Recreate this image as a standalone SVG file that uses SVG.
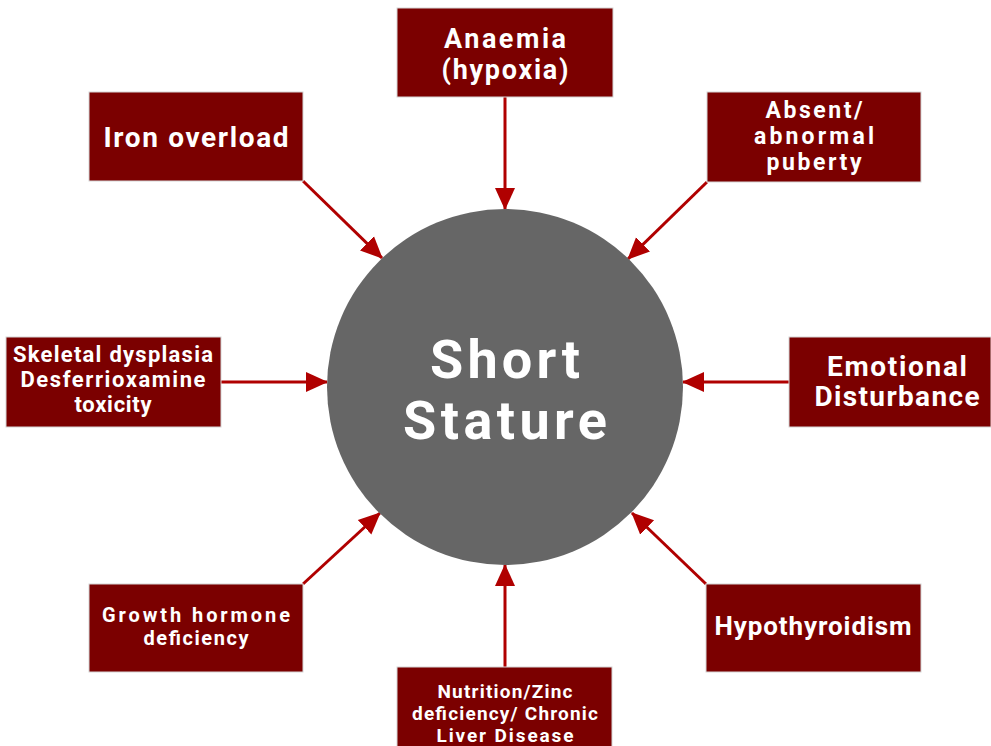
<svg xmlns="http://www.w3.org/2000/svg" width="991" height="746" viewBox="0 0 991 746">
<defs>
<style>
.box{fill:#7b0000;stroke:#d6d6d6;stroke-width:1}
.t{fill:#ffffff;font-family:Roboto,"Liberation Sans",sans-serif;font-weight:700;text-anchor:middle}
.c{stroke:#b00000;stroke-width:3;fill:none;marker-end:url(#ah)}
</style>
<marker id="ah" markerUnits="userSpaceOnUse" markerWidth="22" markerHeight="22" viewBox="0 0 22 22" refX="21" refY="11" orient="auto">
<path d="M0,1 L22,11 L0,21 Z" fill="#b00000"/>
</marker>
</defs>
<rect width="991" height="746" fill="#ffffff"/>
<g id="connectors">
<line class="c" x1="505" y1="97" x2="505" y2="209"/>
<line class="c" x1="303" y1="181" x2="382" y2="258"/>
<line class="c" x1="707" y1="182" x2="628" y2="259"/>
<line class="c" x1="221" y1="382" x2="327" y2="382"/>
<line class="c" x1="789" y1="382" x2="683" y2="382"/>
<line class="c" x1="303" y1="584" x2="380" y2="513"/>
<line class="c" x1="706" y1="584" x2="632" y2="513"/>
<line class="c" x1="505" y1="667" x2="505" y2="565"/>
</g>
<g id="center">
<circle cx="505" cy="387" r="178" fill="#666666"/>
<text class="t" x="505" y="378" font-size="54" textLength="150" lengthAdjust="spacing">Short</text>
<text class="t" x="505" y="439" font-size="54" textLength="204" lengthAdjust="spacing">Stature</text>
</g>
<g id="anaemia">
<rect class="box" x="397" y="8" width="216" height="89"/>
<text class="t" x="505" y="48" font-size="27" textLength="122" lengthAdjust="spacing">Anaemia</text>
<text class="t" x="505" y="79" font-size="27" textLength="127" lengthAdjust="spacing">(hypoxia)</text>
</g>
<g id="iron">
<rect class="box" x="89" y="92" width="214" height="89"/>
<text class="t" x="196" y="147" font-size="28" textLength="185" lengthAdjust="spacing">Iron overload</text>
</g>
<g id="puberty">
<rect class="box" x="707" y="92" width="214" height="90"/>
<text class="t" x="814" y="118" font-size="23" textLength="97" lengthAdjust="spacing">Absent/</text>
<text class="t" x="814" y="144" font-size="23" textLength="120" lengthAdjust="spacing">abnormal</text>
<text class="t" x="814" y="170" font-size="23" textLength="95" lengthAdjust="spacing">puberty</text>
</g>
<g id="skeletal">
<rect class="box" x="6" y="337" width="215" height="90"/>
<text class="t" x="113" y="362" font-size="22" textLength="200" lengthAdjust="spacing">Skeletal dysplasia</text>
<text class="t" x="113" y="387" font-size="22" textLength="185" lengthAdjust="spacing">Desferrioxamine</text>
<text class="t" x="113" y="412" font-size="22" textLength="77" lengthAdjust="spacing">toxicity</text>
</g>
<g id="emotional">
<rect class="box" x="789" y="337" width="202" height="90"/>
<text class="t" x="897" y="376" font-size="28" textLength="140" lengthAdjust="spacing">Emotional</text>
<text class="t" x="897" y="406" font-size="28" textLength="165" lengthAdjust="spacing">Disturbance</text>
</g>
<g id="growth">
<rect class="box" x="89" y="584" width="214" height="88"/>
<text class="t" x="196" y="622" font-size="20" textLength="188" lengthAdjust="spacing">Growth hormone</text>
<text class="t" x="196" y="645" font-size="20" textLength="105" lengthAdjust="spacing">deficiency</text>
</g>
<g id="hypothyroidism">
<rect class="box" x="706" y="584" width="215" height="88"/>
<text class="t" x="813" y="635" font-size="26" textLength="197" lengthAdjust="spacing">Hypothyroidism</text>
</g>
<g id="nutrition">
<rect class="box" x="397" y="667" width="215" height="85"/>
<text class="t" x="505" y="698" font-size="19" textLength="135" lengthAdjust="spacing">Nutrition/Zinc</text>
<text class="t" x="505" y="720" font-size="19" textLength="186" lengthAdjust="spacing">deficiency/ Chronic</text>
<text class="t" x="505" y="742" font-size="19" textLength="137" lengthAdjust="spacing">Liver Disease</text>
</g>
</svg>
